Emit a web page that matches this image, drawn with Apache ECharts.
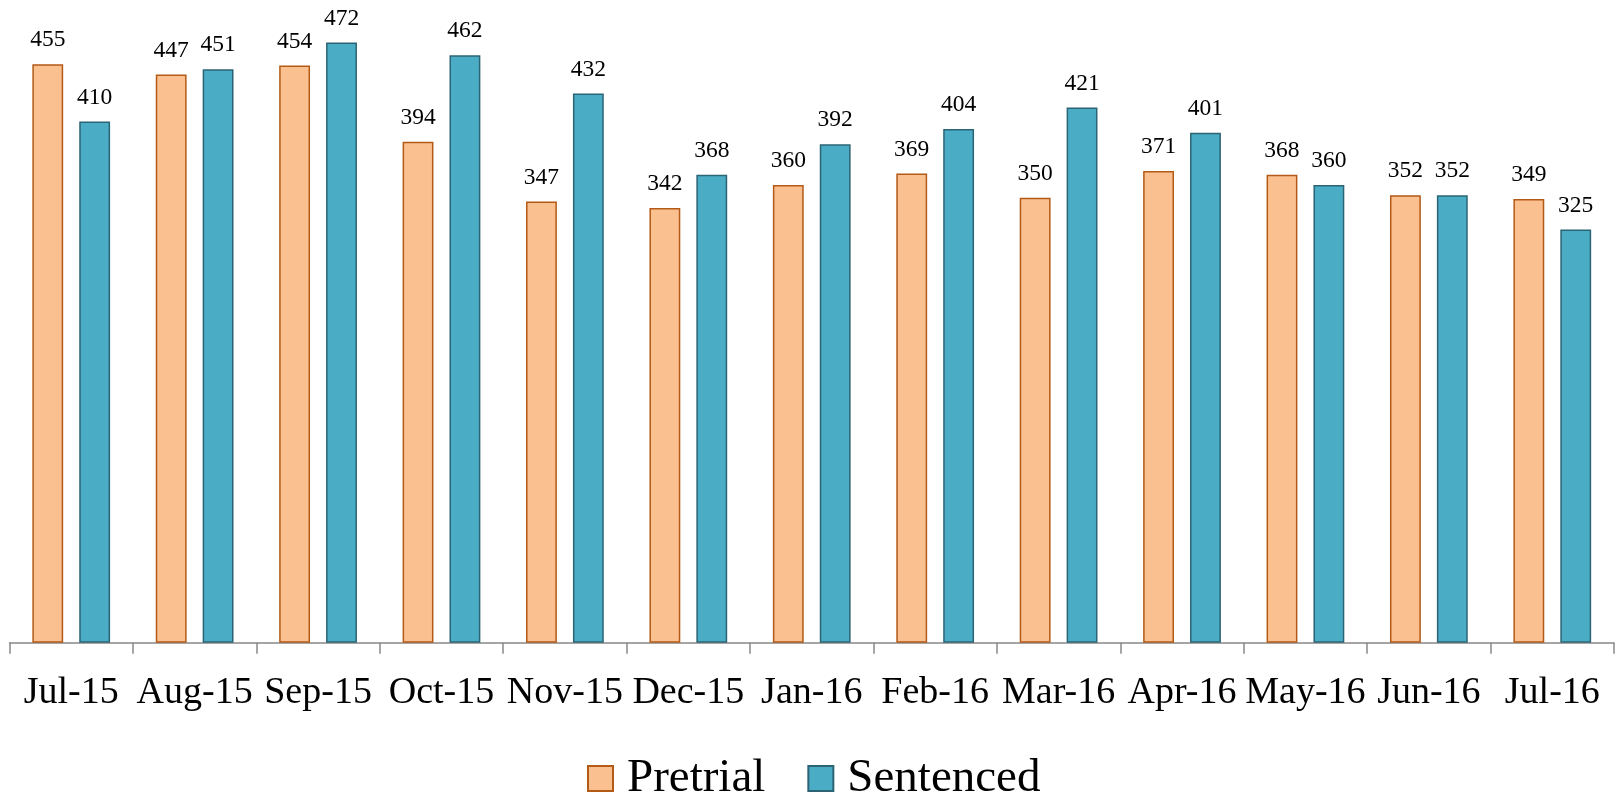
<!DOCTYPE html>
<html>
<head>
<meta charset="utf-8">
<script src="https://cdn.jsdelivr.net/npm/echarts@6/dist/echarts.min.js"></script>
<style>
html,body{margin:0;padding:0;background:#fff;}
#chart{width:1621px;height:796px;}
</style>
</head>
<body>
<div id="chart"></div>
<script>
const categories = ['Jul-15','Aug-15','Sep-15','Oct-15','Nov-15','Dec-15','Jan-16','Feb-16','Mar-16','Apr-16','May-16','Jun-16','Jul-16'];
const pretrial = [455,447,454,394,347,342,360,369,350,371,368,352,349];
const sentenced = [410,451,472,462,432,368,392,404,421,401,360,352,325];

const font = '"Liberation Serif","Times New Roman",serif';
const chart = echarts.init(document.getElementById('chart'));
chart.setOption({
  animation: false,
  textStyle: { fontFamily: font },
  grid: { left: 9.5, right: 7, top: 7, bottom: 153.3, containLabel: false },
  legend: {
    data: ['Pretrial','Sentenced'],
    top: 750,
    left: 582,
    itemWidth: 25,
    itemHeight: 25,
    itemGap: 42,
    icon: 'rect',
    textStyle: { fontSize: 47, color: '#000', fontFamily: font, padding: [0,0,0,9] }
  },
  xAxis: {
    type: 'category',
    data: categories,
    axisLine: { show: true, lineStyle: { color: '#888', width: 1.5 } },
    axisTick: { show: true, length: 11, interval: 0, lineStyle: { color: '#888', width: 1.5 } },
    axisLabel: { fontSize: 38, color: '#000', fontFamily: font, margin: 31, interval: 0 }
  },
  yAxis: {
    type: 'value',
    min: 0, max: 500,
    show: false,
    splitLine: { show: false }
  },
  series: [
    {
      name: 'Pretrial', type: 'bar', data: pretrial,
      barWidth: '25%', barGap: '52%',
      itemStyle: { color: '#FAC090', borderColor: '#B35A17', borderWidth: 1.5 },
      label: { show: true, position: 'top', distance: 12, fontSize: 23.5, color: '#000', fontFamily: font }
    },
    {
      name: 'Sentenced', type: 'bar', data: sentenced,
      barWidth: '25%', barGap: '52%',
      itemStyle: { color: '#4BACC6', borderColor: '#2B6474', borderWidth: 1.5 },
      label: { show: true, position: 'top', distance: 12, fontSize: 23.5, color: '#000', fontFamily: font }
    }
  ]
});
</script>
</body>
</html>
